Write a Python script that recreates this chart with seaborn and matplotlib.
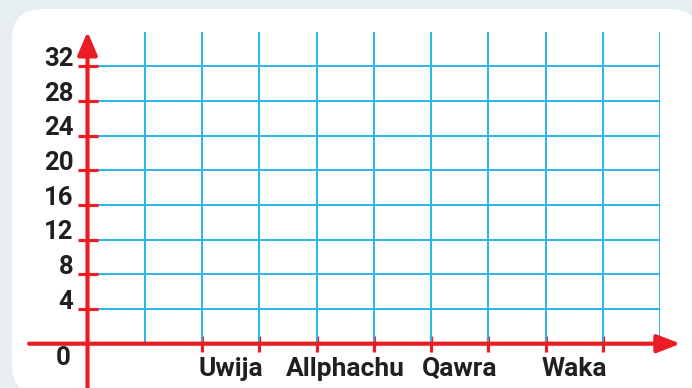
import numpy as np
import matplotlib
matplotlib.use("Agg")
import matplotlib.pyplot as plt
import matplotlib.patches as mpatches
import matplotlib.transforms as mtransforms
import seaborn as sns

# chart content
categories = ['Uwija', 'Allphachu', 'Qawra', 'Waka']
category_pos = [2.5, 4.5, 6.5, 8.5]
y_ticks = [4, 8, 12, 16, 20, 24, 28, 32]
x_marks = [2, 3, 4, 5, 6, 7, 8, 9]
x_grid = [1, 2, 3, 4, 5, 6, 7, 8, 9, 10]

red = '#ec1c24'
blue = '#27b4ea'
ink = '#231f20'

sns.set_style('white')
plt.rcParams['font.family'] = ['Roboto', 'DejaVu Sans']
plt.rcParams['font.weight'] = 'bold'

fig = plt.figure(figsize=(6.92, 3.88), dpi=100)
fig.patch.set_facecolor('#e6eef2')

# white rounded card behind the chart
card = mpatches.FancyBboxPatch((12, -7), 688, 386,
                               boxstyle='round,pad=0,rounding_size=30',
                               transform=mtransforms.IdentityTransform(),
                               facecolor='white', edgecolor='none', zorder=-5)
fig.patches.append(card)

ax = fig.add_axes([87.5 / 692, 44.3 / 388, 572.5 / 692, 312 / 388])
ax.set_zorder(2)
ax.set_facecolor('none')
ax.set_xlim(0, 10)
ax.set_ylim(0, 36)
sns.despine(ax=ax, left=True, bottom=True, top=True, right=True)

# grid
ax.xaxis.remove_overlapping_locs = False
ax.set_yticks(y_ticks)
ax.set_xticks(x_marks)
ax.set_xticks(x_grid, minor=True)
ax.xaxis.grid(True, which='minor', color=blue, lw=1.4)
ax.xaxis.grid(False, which='major')
ax.yaxis.grid(True, which='major', color=blue, lw=1.4)

# red tick marks
ax.tick_params(axis='y', which='major', direction='inout', length=14.5, width=2.3,
               color=red, labelsize=18.5, labelcolor=ink, pad=3, left=True)
ax.tick_params(axis='x', which='major', direction='inout', length=12, width=2.3,
               color=red, labelbottom=False, bottom=True)
ax.tick_params(axis='x', which='minor', length=0)
lift = mtransforms.ScaledTranslation(0, 7 / 72, fig.dpi_scale_trans)
for lab in ax.get_yticklabels():
    lab.set_fontweight('bold')
    lab.set_transform(lab.get_transform() + lift)

# red axes with arrows
ax.annotate('', xy=(10.36, 0), xytext=(-1.02, 0),
            arrowprops=dict(arrowstyle='-|>,head_length=0.7,head_width=0.27',
                            mutation_scale=20, color=red, lw=3, shrinkA=0, shrinkB=0),
            annotation_clip=False, zorder=5)
ax.annotate('', xy=(0, 36), xytext=(0, -6),
            arrowprops=dict(arrowstyle='-|>,head_length=0.7,head_width=0.3',
                            mutation_scale=20, color=red, lw=3, shrinkA=0, shrinkB=0),
            annotation_clip=False, zorder=5)

ax.text(-0.29, -1.7, '0', ha='right', va='center', fontsize=18.5,
        fontweight='bold', color=ink, clip_on=False)

for name, pos in zip(categories, category_pos):
    ax.text(pos, -3.7, name, ha='center', va='baseline', fontsize=19,
            fontweight='bold', color=ink, clip_on=False)

fig.savefig('out.png', dpi=100, facecolor=fig.get_facecolor())
